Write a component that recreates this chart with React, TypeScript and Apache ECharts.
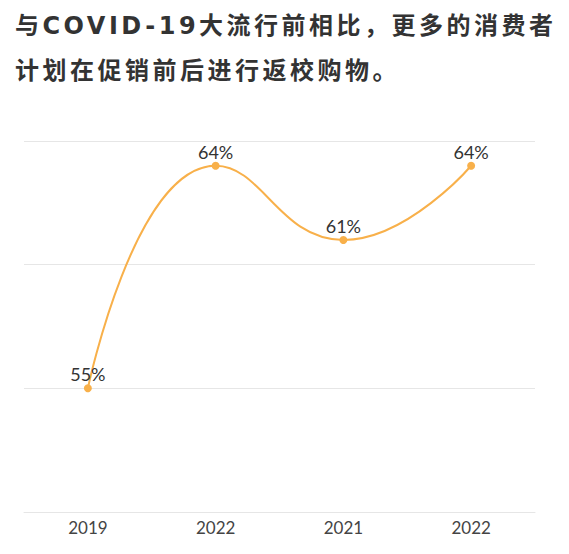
import React, { useRef, useEffect } from 'react';
import * as echarts from 'echarts';

// ─── Data ─────────────────────────────────────────────────────────────────────
const TITLE_LINES = ['与COVID-19大流行前相比，更多的消费者', '计划在促销前后进行返校购物。'];
const YEARS = ['2019', '2022', '2021', '2022'];
const SHARE = [55, 64, 61, 64];

// ─── Styles ───────────────────────────────────────────────────────────────────
const LINE_COLOR = '#F8B04A';
const TEXT_COLOR = '#333333';
const GRID_COLOR = '#E6E6E6';
const FONT = 'Lato, "Noto Sans", sans-serif';

function getOption(): echarts.EChartsCoreOption {
  return {
    animation: false,
    backgroundColor: '#FFFFFF',
    grid: { left: 24, right: 34, top: 141, bottom: 42, containLabel: false },
    xAxis: {
      type: 'category',
      data: YEARS,
      boundaryGap: true,
      axisLine: { show: true, lineStyle: { color: GRID_COLOR, width: 1 } },
      axisTick: { show: false },
      axisLabel: { color: '#444444', fontSize: 17, fontFamily: FONT, margin: 7 },
    },
    yAxis: {
      type: 'value',
      min: 50,
      max: 65,
      interval: 5,
      axisLine: { show: false },
      axisTick: { show: false },
      axisLabel: { show: false },
      splitLine: { lineStyle: { color: GRID_COLOR, width: 1 } },
    },
    series: [
      {
        type: 'line',
        data: SHARE,
        smooth: 0.5,
        symbol: 'circle',
        symbolSize: 8,
        itemStyle: { color: LINE_COLOR },
        lineStyle: { color: LINE_COLOR, width: 2 },
        label: {
          show: true,
          position: 'top',
          distance: 1,
          formatter: '{c}%',
          color: TEXT_COLOR,
          fontSize: 18,
          fontFamily: FONT,
        },
      },
    ],
  };
}

function LineChart() {
  const ref = useRef<HTMLDivElement>(null);

  useEffect(() => {
    if (!ref.current) return;
    const chart = echarts.init(ref.current, undefined, { renderer: 'svg' });
    chart.setOption(getOption());
    return () => chart.dispose();
  }, []);

  return <div ref={ref} style={{ position: 'absolute', left: 0, top: 0, width: 569, height: 554 }} />;
}

export default function App() {
  return (
    <div style={{ position: 'fixed', left: 0, top: 0, width: 569, height: 554, background: '#fff', overflow: 'hidden' }}>
      <LineChart />
      <div
        style={{
          position: 'absolute',
          left: 15,
          top: 4,
          fontFamily: '"DejaVu Sans", "Noto Sans CJK SC", sans-serif',
          fontWeight: 700,
          fontSize: 24,
          lineHeight: '45px',
          letterSpacing: '3.5px',
          color: TEXT_COLOR,
          whiteSpace: 'nowrap',
        }}
      >
        {TITLE_LINES.map((t, i) => (
          <div key={i}>{t}</div>
        ))}
      </div>
    </div>
  );
}
